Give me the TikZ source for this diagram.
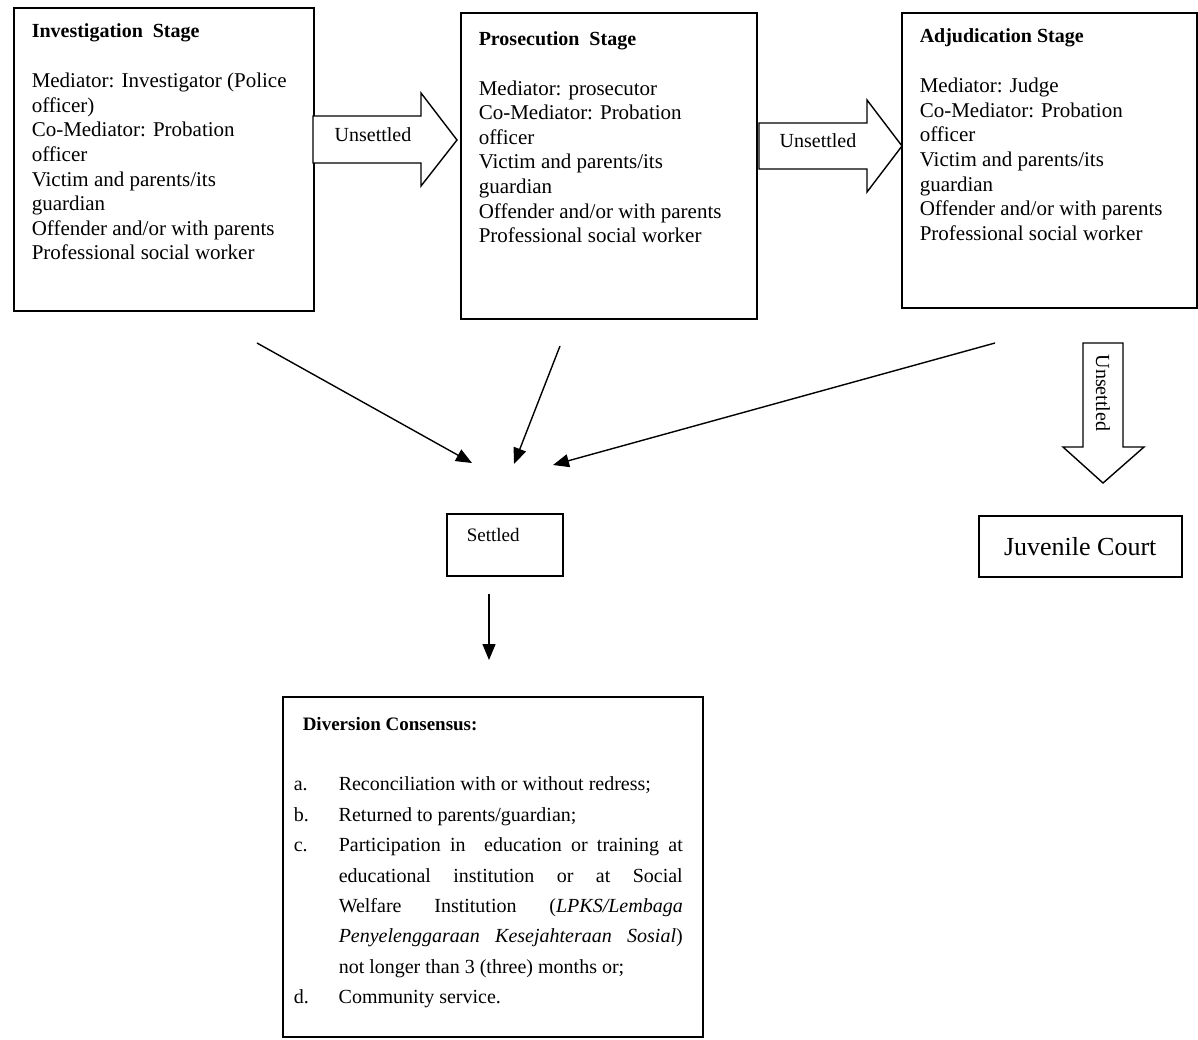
\documentclass[tikz,border=0pt]{standalone}
\usepackage{fontspec}
\setmainfont{Liberation Serif}
\usetikzlibrary{arrows.meta}

% text of a stage box: width, height, title, lines
\newcommand{\stagetext}[4]{\parbox[c][#2][t]{#1}{\raggedright
  \fontsize{20}{24.6}\selectfont\textbf{#3}\\[25.4pt]
  \fontsize{21}{24.6}\selectfont #4}}
% one entry of the consensus list
\newcommand{\divitem}[2]{\par\hangindent=45pt\hangafter=1\noindent
  \makebox[45pt][l]{#1}#2\par}

\tikzset{
  stagebox/.style={draw, line width=1.5pt, inner xsep=18pt, inner ysep=16pt, anchor=north west},
  blockarrow/.style={draw, line width=1.4pt, fill=white, line join=miter},
  flow/.style={-{Triangle[length=16pt,width=13pt]}, line width=1.4pt},
  arrowlabel/.style={font=\fontsize{20}{24}\selectfont, inner sep=0pt}
}

\begin{document}
\begin{tikzpicture}[x=1pt, y=-1pt]
  \useasboundingbox (0,0) rectangle (1198,1039);
  % stages
  \node[stagebox] (inv) at (13,7) {\stagetext{264pt}{271pt}{Investigation\ \ Stage}{%
    Mediator: Investigator (Police\\ officer)\\ Co-Mediator: Probation\\ officer\\
    Victim and parents/its\\ guardian\\ Offender and/or with parents\\ Professional social worker}};
  \node[stagebox, inner ysep=18.5pt] (pro) at (460,12) {\stagetext{260pt}{269pt}{Prosecution\ \ Stage}{%
    Mediator: prosecutor\\ Co-Mediator: Probation\\ officer\\
    Victim and parents/its\\ guardian\\ Offender and/or with parents\\ Professional social worker}};
  \node[stagebox] (adj) at (901,12) {\stagetext{259pt}{263pt}{Adjudication Stage}{%
    Mediator: Judge\\ Co-Mediator: Probation\\ officer\\
    Victim and parents/its\\ guardian\\ Offender and/or with parents\\ Professional social worker}};

  % unsettled arrows
  \draw[blockarrow] (313,116) -- (421,116) -- (421,93) -- (457,140) -- (421,186) -- (421,163) -- (313,163) -- cycle;
  \node[arrowlabel] (uns1) at (373,135) {Unsettled};
  \draw[blockarrow] (759,123) -- (867,123) -- (867,100) -- (902,146) -- (867,192) -- (867,169) -- (759,169) -- cycle;
  \node[arrowlabel] (uns2) at (818,141) {Unsettled};
  \draw[blockarrow] (1083,343) -- (1123,343) -- (1123,447) -- (1144,447) -- (1103,483) -- (1063,447) -- (1083,447) -- cycle;
  \node[arrowlabel, rotate=-90] (uns3) at (1103,393) {Unsettled};

  % outcomes
  \node[stagebox, inner xsep=20pt, inner ysep=15pt] (set) at (446,513)
    {\parbox[c][32pt][t]{76pt}{\fontsize{19}{22}\selectfont Settled}};
  \node[draw, line width=1.5pt, anchor=north west, minimum width=203pt, minimum height=61pt,
    inner sep=0pt, font=\fontsize{26}{30}\selectfont] (court) at (978,515) {Juvenile Court};

  % settled arrows
  \coordinate (inv-s) at (257,343);
  \coordinate (pro-s) at (560,346);
  \coordinate (adj-s) at (995,343);
  \coordinate (set-a) at (472,463);
  \coordinate (set-b) at (514,464);
  \coordinate (set-c) at (553,465);
  \coordinate (set-o) at (489,594);
  \coordinate (div-i) at (489,660);
  \draw[flow] (inv-s) -- (set-a);
  \draw[flow] (pro-s) -- (set-b);
  \draw[flow] (adj-s) -- (set-c);
  \draw[flow] (set-o) -- (div-i);

  % diversion consensus
  \node[stagebox, inner xsep=11pt, inner ysep=21pt] (div) at (282,696)
    {\parbox[c][298pt][t]{398pt}{\fontsize{20}{30.4}\selectfont\rightskip=9pt
      \hspace*{9pt}{\bfseries\fontsize{19}{30.4}\selectfont Diversion Consensus:}\par
      \vspace{29.6pt}
      \divitem{a.}{Reconciliation with or without redress;}
      \divitem{b.}{Returned to parents/guardian;}
      \divitem{c.}{Participation in\ \ education or training at\linebreak
        educational institution or at Social\linebreak
        Welfare Institution (\textit{LPKS/Lembaga}\linebreak
        \textit{Penyelenggaraan Kesejahteraan Sosial})\linebreak
        not longer than 3 (three) months or;}
      \divitem{d.}{Community service.}}};
\end{tikzpicture}
\end{document}
